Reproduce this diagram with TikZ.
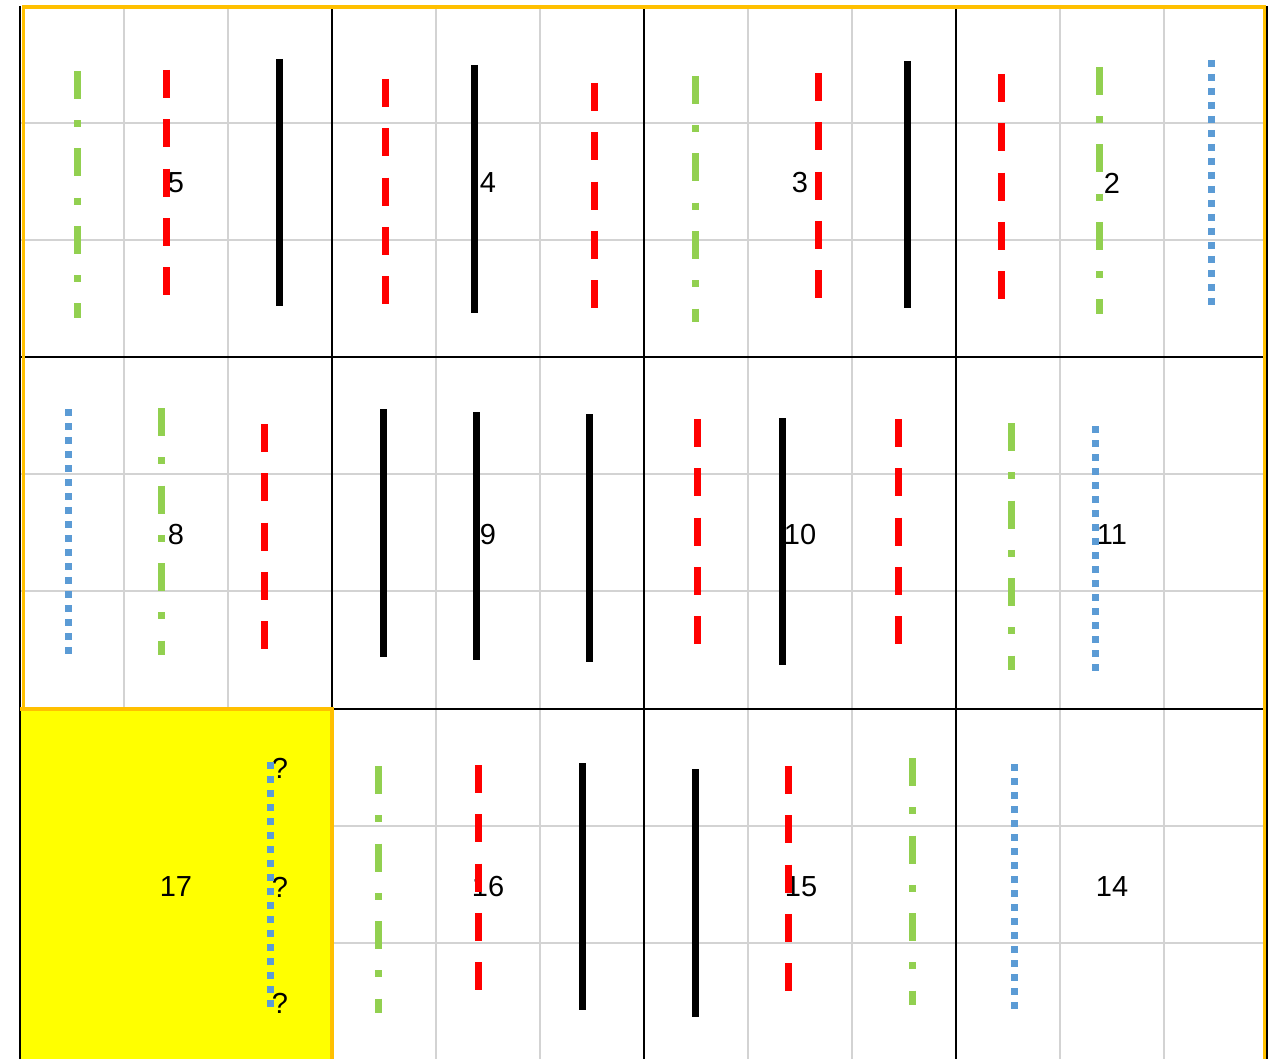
\documentclass[tikz,border=0pt]{standalone}
\usepackage{fontspec}
\setmainfont{Liberation Sans}
\definecolor{gridgray}{HTML}{D3D3D3}
\definecolor{myred}{HTML}{FF0000}
\definecolor{mygreen}{HTML}{92D050}
\definecolor{myblue}{HTML}{5B9BD5}
\definecolor{myorange}{HTML}{FFC000}
\definecolor{myyellow}{HTML}{FFFF00}
\begin{document}
\begin{tikzpicture}[x=1pt,y=-1pt,
  gridline/.style={draw=gridgray,line width=2pt},
  cellline/.style={draw=black,line width=2pt},
  frameline/.style={draw=myorange,line width=3.5pt},
  solidline/.style={draw=black,line width=7pt},
  redline/.style={draw=myred,line width=7pt,dash pattern=on 28pt off 21.3pt},
  greenline/.style={draw=mygreen,line width=7pt,dash pattern=on 28pt off 21.25pt on 7pt off 21.25pt},
  blueline/.style={draw=myblue,line width=7pt,dash pattern=on 7pt off 7pt},
  lbl/.style={inner sep=0pt,font=\fontsize{29}{35}\selectfont}]
\useasboundingbox[fill=white] (0,0) rectangle (1274,1059);
% yellow cell 17
\fill[myyellow] (20,709) rectangle (332,1059);
% gray sub-grid
\foreach \x in {124,228} \draw[gridline] (\x,5) -- (\x,709);
\foreach \x in {436,540,748,852,1060,1164} \draw[gridline] (\x,5) -- (\x,1059);
\foreach \y in {123,240,474,591} \draw[gridline] (20,\y) -- (1267,\y);
\foreach \y in {826,943} \draw[gridline] (332,\y) -- (1267,\y);
% black cell borders
\foreach \x in {20,332,644,956,1267} \draw[cellline] (\x,6) -- (\x,1059);
\foreach \y in {357,709} \draw[cellline] (20,\y) -- (1267,\y);
% orange frames
\draw[frameline] (23.5,707) -- (23.5,7) -- (1264.5,7) -- (1264.5,1059);
\draw[frameline] (20,709) -- (332,709) -- (332,1059);
% labels
\node[lbl] (l5) at (176,183) {5};
\node[lbl] (l4) at (488,183) {4};
\node[lbl] (l3) at (800,183) {3};
\node[lbl] (l2) at (1112,183) {2};
\node[lbl] (l8) at (176,535) {8};
\node[lbl] (l9) at (488,535) {9};
\node[lbl] (l10) at (800,535) {10};
\node[lbl] (l11) at (1112,535) {11};
\node[lbl] (l17) at (176,887) {17};
\node[lbl] (l16) at (488,887) {16};
\node[lbl] (l15) at (801,887) {15};
\node[lbl] (l14) at (1112,887) {14};
\node[lbl] (q1) at (280,768) {?};
\node[lbl] (q2) at (280,887) {?};
\node[lbl] (q3) at (280,1003) {?};
% row 1
\draw[greenline] (77,71) -- (77,318);
\draw[redline] (166,70) -- (166,296);
\draw[solidline] (279,59) -- (279,306);
\draw[redline] (385,79) -- (385,305);
\draw[solidline] (474,65) -- (474,313);
\draw[redline] (594,83) -- (594,309);
\draw[greenline] (695,76) -- (695,322);
\draw[redline] (818,73) -- (818,299);
\draw[solidline] (907,61) -- (907,308);
\draw[redline] (1001,74) -- (1001,300);
\draw[greenline] (1099,67) -- (1099,314);
\draw[blueline] (1211,60) -- (1211,306);
% row 2
\draw[blueline] (68,409) -- (68,656);
\draw[greenline] (161,408) -- (161,655);
\draw[redline] (264,424) -- (264,650);
\draw[solidline] (383,409) -- (383,657);
\draw[solidline] (476,412) -- (476,660);
\draw[solidline] (589,414) -- (589,662);
\draw[redline] (697,419) -- (697,646);
\draw[solidline] (782,418) -- (782,665);
\draw[redline] (898,419) -- (898,646);
\draw[greenline] (1011,423) -- (1011,670);
\draw[blueline] (1095,426) -- (1095,672);
% row 3
\draw[blueline] (270,762) -- (270,1009);
\draw[greenline] (378,766) -- (378,1013);
\draw[redline] (478,765) -- (478,991);
\draw[solidline] (582,763) -- (582,1010);
\draw[solidline] (695,769) -- (695,1017);
\draw[redline] (788,766) -- (788,992);
\draw[greenline] (912,758) -- (912,1005);
\draw[blueline] (1014,764) -- (1014,1011);
\end{tikzpicture}
\end{document}
